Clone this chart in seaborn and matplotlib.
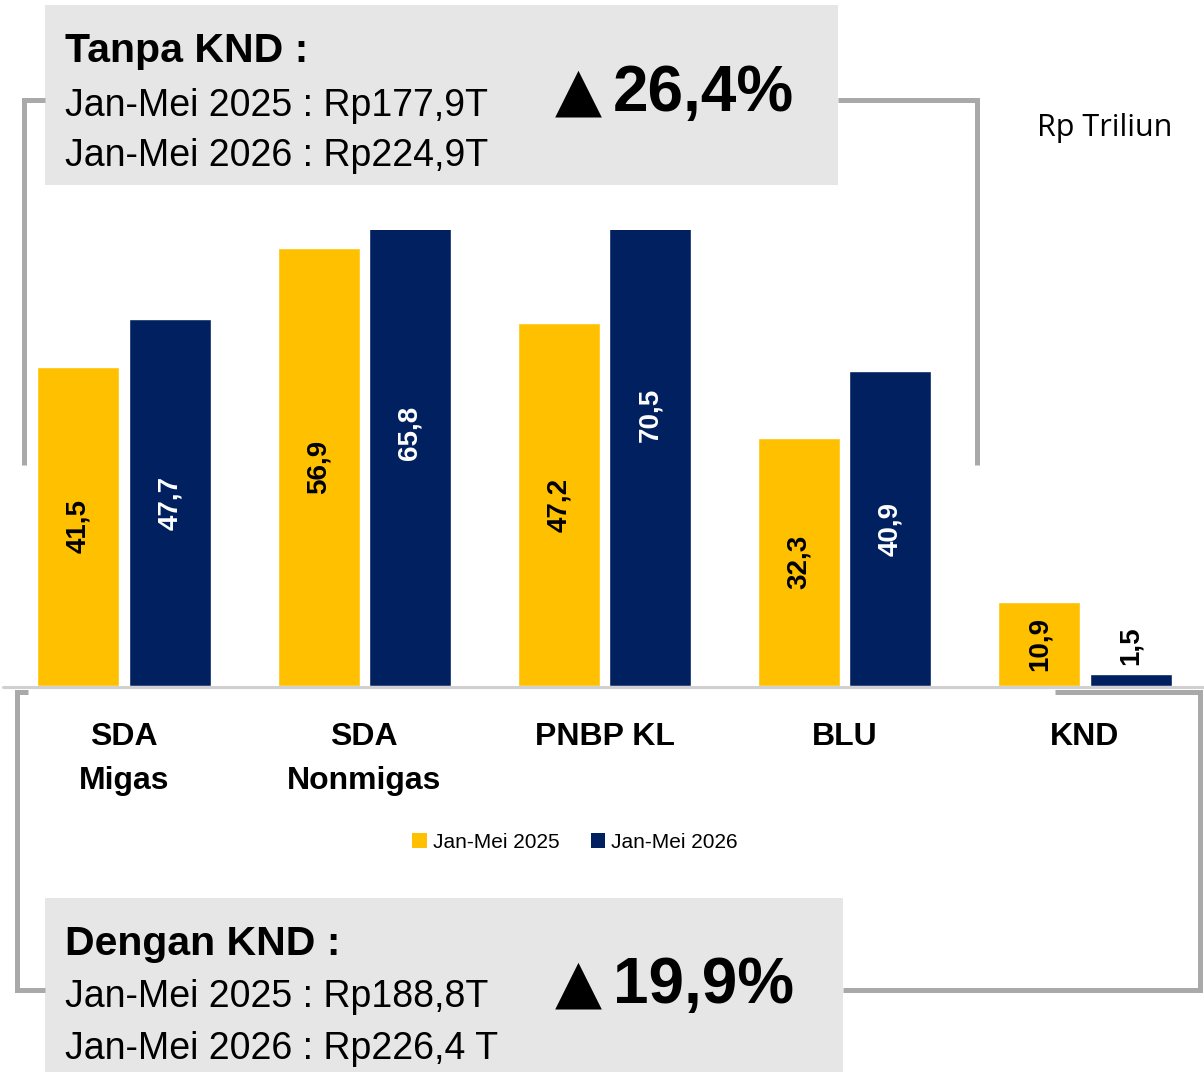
import matplotlib
matplotlib.use("Agg")
import matplotlib.pyplot as plt
from matplotlib import font_manager
from matplotlib.patches import Rectangle
from matplotlib.lines import Line2D
import seaborn as sns
import pandas as pd

categories = ["SDA\nMigas", "SDA\nNonmigas", "PNBP KL", "BLU", "KND"]
series_names = ["Jan-Mei 2025", "Jan-Mei 2026"]
values_2025 = [41.5, 56.9, 47.2, 32.3, 10.9]
values_2026 = [47.7, 65.8, 70.5, 40.9, 1.5]
colors = ["#FFC000", "#002060"]

top_title = "Tanpa KND :"
top_lines = ["Jan-Mei 2025 : Rp177,9T", "Jan-Mei 2026 : Rp224,9T"]
top_growth = "26,4%"
bot_title = "Dengan KND :"
bot_lines = ["Jan-Mei 2025 : Rp188,8T", "Jan-Mei 2026 : Rp226,4 T"]
bot_growth = "19,9%"
unit_label = "Rp Triliun"

sns.set_theme(style="white")
avail = {f.name for f in font_manager.fontManager.ttflist}
narrow = "Liberation Sans Narrow" if "Liberation Sans Narrow" in avail else "Liberation Sans"
FAM = [narrow, "DejaVu Sans"]
plt.rcParams["font.family"] = FAM
plt.rcParams["text.color"] = "black"
plt.rcParams["xtick.color"] = "black"

df = pd.DataFrame({
    "cat": categories * 2,
    "series": [series_names[0]] * 5 + [series_names[1]] * 5,
    "val": values_2025 + values_2026,
})

W, H = 1204, 1072
fig = plt.figure(figsize=(W / 100, H / 100), dpi=100)
ax = fig.add_axes([0, 1 - 686 / H, 1, (686 - 230) / H])
sns.barplot(data=df, x="cat", y="val", hue="series", palette=colors,
            width=0.76, gap=0.1, ax=ax, legend=False, saturation=1)
ax.set_xlim(-124 / 240.25, (W - 124) / 240.25)
ax.set_ylim(0, 59.3)
for s in ax.spines.values():
    s.set_visible(False)
ax.set_yticks([])
ax.set_xlabel("")
ax.set_ylabel("")
ax.tick_params(axis="x", length=0, pad=26, colors="black")
for lbl in ax.get_xticklabels():
    lbl.set_fontsize(23)
    lbl.set_fontweight("bold")
    lbl.set_family(FAM)
    lbl.set_color("black")
    lbl.set_linespacing(1.6)
    lbl.set_verticalalignment("top")

# value labels
for ci, cont in enumerate(ax.containers):
    vals = [values_2025, values_2026][ci]
    for patch, v in zip(cont.patches, vals):
        xc = patch.get_x() + patch.get_width() / 2
        txt = f"{v:.1f}".replace(".", ",")
        if v < 5:
            ax.text(xc, v + 1.2, txt, rotation=90, ha="center", va="bottom",
                    fontsize=20, fontweight="bold", color="black", family=FAM)
        else:
            ax.text(xc, v / 2, txt, rotation=90, ha="center", va="center",
                    fontsize=20, fontweight="bold",
                    color="black" if ci == 0 else "white", family=FAM)

# baseline
fig.add_artist(Line2D([3 / W, 1], [1 - 687 / H] * 2, color="#d0d0d0", lw=2.2))

gray = "#a9a9a9"
lw = 3.6
def line(xs, ys):
    fig.add_artist(Line2D([x / W for x in xs], [1 - y / H for y in ys],
                          color=gray, lw=lw, solid_joinstyle="miter",
                          solid_capstyle="butt"))

# top bracket
line([45, 24, 24], [100, 100, 465])
line([838, 977, 977], [100, 100, 465])
# bottom bracket
line([28, 17, 17, 45], [692, 692, 990, 990])
line([1055, 1200, 1200, 843], [692, 692, 990, 990])

# boxes
fig.add_artist(Rectangle((45 / W, 1 - 185 / H), (838 - 45) / W, 180 / H,
                         facecolor="#e6e6e6", edgecolor="none"))
fig.add_artist(Rectangle((45 / W, 1 - 1072 / H), (843 - 45) / W, 174 / H,
                         facecolor="#e6e6e6", edgecolor="none"))

def fy(y):
    return 1 - y / H

fig.text(65 / W, fy(62), top_title, fontsize=29.5, fontweight="bold", va="baseline", family=FAM)
fig.text(65 / W, fy(116), top_lines[0], fontsize=27, va="baseline", family=FAM)
fig.text(65 / W, fy(166), top_lines[1], fontsize=27, va="baseline", family=FAM)
fig.text(555 / W, fy(93), "\u25B2", fontsize=44, va="center", ha="left", family=["DejaVu Sans"])
fig.text(613 / W, fy(94), top_growth, fontsize=46, fontweight="bold", va="center", ha="left", family=FAM)

fig.text(65 / W, fy(955), bot_title, fontsize=29.5, fontweight="bold", va="baseline", family=FAM)
fig.text(65 / W, fy(1007), bot_lines[0], fontsize=27, va="baseline", family=FAM)
fig.text(65 / W, fy(1059), bot_lines[1], fontsize=27, va="baseline", family=FAM)
fig.text(555 / W, fy(985), "\u25B2", fontsize=44, va="center", ha="left", family=["DejaVu Sans"])
fig.text(613 / W, fy(986), bot_growth, fontsize=46, fontweight="bold", va="center", ha="left", family=FAM)

fig.text(1105 / W, fy(128), unit_label, fontsize=22, ha="center", va="center",
         family=["Open Sans", "DejaVu Sans"])

# legend
handles = [Rectangle((0, 0), 1, 1, facecolor=c, edgecolor="none") for c in colors]
fig.legend(handles, series_names, loc="center", bbox_to_anchor=(575 / W, fy(842)),
           ncol=2, frameon=False, handlelength=0.7, handleheight=0.7,
           handletextpad=0.3, columnspacing=1.5, labelcolor="black",
           prop={"family": FAM, "size": 15})

fig.savefig("out.png", dpi=100)
